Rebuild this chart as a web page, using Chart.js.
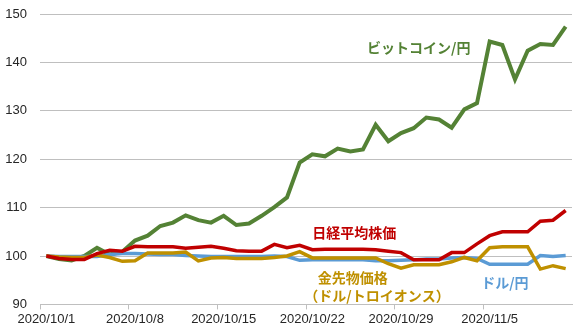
<!DOCTYPE html>
<html>
<head>
<meta charset="utf-8">
<title>ビットコイン・日経平均・金・ドル円</title>
<script src="https://cdn.jsdelivr.net/npm/chart.js@4"></script>
<style>
  html, body { margin: 0; padding: 0; background: #fff; }
  #wrap { width: 580px; height: 330px; }
</style>
</head>
<body>
<div id="wrap"><canvas id="chart"></canvas></div>
<script>
// daily, 2020/10/1 = 100
const days = [
  '2020/10/1','2020/10/2','2020/10/3','2020/10/4','2020/10/5','2020/10/6','2020/10/7',
  '2020/10/8','2020/10/9','2020/10/10','2020/10/11','2020/10/12','2020/10/13','2020/10/14',
  '2020/10/15','2020/10/16','2020/10/17','2020/10/18','2020/10/19','2020/10/20','2020/10/21',
  '2020/10/22','2020/10/23','2020/10/24','2020/10/25','2020/10/26','2020/10/27','2020/10/28',
  '2020/10/29','2020/10/30','2020/10/31','2020/11/1','2020/11/2','2020/11/3','2020/11/4',
  '2020/11/5','2020/11/6','2020/11/7','2020/11/8','2020/11/9','2020/11/10','2020/11/11'
];
const shownDays = ['2020/10/1','2020/10/8','2020/10/15','2020/10/22','2020/10/29','2020/11/5'];

const bitcoin = [100, 99.4, 99.1, 100.0, 101.7, 100.3, 100.9, 103.2, 104.2, 106.2,
  106.9, 108.4, 107.4, 106.9, 108.3, 106.4, 106.7, 108.3, 110.1, 112.1,
  119.3, 121.0, 120.6, 122.2, 121.6, 122.0, 127.1, 123.7, 125.4, 126.4,
  128.6, 128.2, 126.5, 130.3, 131.6, 144.3, 143.6, 136.5, 142.4, 143.8,
  143.6, 147.4];
const nikkei = [100, 99.5, 99.3, 99.3, 100.5, 101.2, 101.0, 102.0, 101.9, 101.9,
  101.9, 101.6, 101.8, 102.0, 101.6, 101.1, 101.0, 101.0, 102.4, 101.7,
  102.2, 101.3, 101.4, 101.4, 101.4, 101.4, 101.3, 101.0, 100.7, 99.2,
  99.2, 99.2, 100.7, 100.7, 102.5, 104.2, 105.0, 105.0, 105.0, 107.2,
  107.4, 109.4];
const gold = [100, 99.8, 99.7, 99.7, 100.2, 99.7, 98.9, 99.0, 100.6, 100.6,
  100.6, 100.8, 99.0, 99.6, 99.7, 99.5, 99.5, 99.5, 99.7, 100.0,
  100.9, 99.6, 99.6, 99.6, 99.6, 99.6, 99.6, 98.4, 97.5, 98.2,
  98.2, 98.2, 98.8, 99.7, 99.0, 101.7, 101.9, 101.9, 101.9, 97.3,
  98.0, 97.4];
const usdjpy = [100, 99.9, 99.9, 99.9, 99.9, 100.3, 100.5, 100.5, 100.4, 100.3,
  100.3, 100.1, 100.0, 99.9, 99.9, 99.9, 99.9, 99.9, 100.0, 99.9,
  99.1, 99.2, 99.2, 99.2, 99.2, 99.2, 99.0, 99.0, 99.1, 99.2,
  99.4, 99.4, 99.6, 99.7, 99.5, 98.3, 98.3, 98.3, 98.3, 100.1,
  99.9, 100.1];

const GREEN = '#548235', RED = '#C00000', GOLD = '#BF9000', BLUE = '#5B9BD5';
const GRID = '#BFBFBF';

// series names placed inside the plot: [text, day index, value, colour]
const notes = [
  ['ビットコイン/円', 29.4, 143.0, GREEN],
  ['日経平均株価', 24.3, 104.9, RED],
  ['金先物価格', 24.2, 95.5, GOLD],
  ['（ドル/トロイオンス）', 26.1, 91.7, GOLD],
  ['ドル/円', 36.2, 94.5, BLUE]
];

const notePlugin = {
  id: 'notes',
  afterDatasetsDraw(chart) {
    const ctx = chart.ctx, x = chart.scales.x, y = chart.scales.y;
    ctx.save();
    ctx.font = 'bold 14px "Noto Sans CJK JP"';
    ctx.textAlign = 'center';
    ctx.textBaseline = 'middle';
    notes.forEach(n => {
      ctx.fillStyle = n[3];
      ctx.fillText(n[0], x.getPixelForValue(n[1]), y.getPixelForValue(n[2]));
    });
    ctx.restore();
  }
};

function line(label, data, color, width) {
  return {
    label: label, data: data, borderColor: color, backgroundColor: color,
    borderWidth: width, pointRadius: 0, tension: 0, fill: false
  };
}

new Chart(document.getElementById('chart'), {
  type: 'line',
  data: {
    labels: days,
    datasets: [
      line('日経平均株価', nikkei, RED, 3.5),
      line('金先物価格', gold, GOLD, 3.5),
      line('ドル/円', usdjpy, BLUE, 3.5),
      line('ビットコイン/円', bitcoin, GREEN, 4)
    ]
  },
  options: {
    responsive: true,
    maintainAspectRatio: false,
    animation: false,
    layout: { padding: { top: 14, left: 5, right: 8, bottom: 1 } },
    plugins: { legend: { display: false }, tooltip: { enabled: false } },
    scales: {
      x: {
        offset: true,
        // the first date label may hang over the left edge, as in the original
        afterFit: s => { s.paddingLeft = 0; s.paddingRight = 0; },
        grid: {
          offset: true,
          drawOnChartArea: false,
          drawTicks: true,
          tickLength: 5,
          color: c => (c.index % 7 === 0 ? GRID : 'rgba(0,0,0,0)')
        },
        border: { display: true, color: GRID },
        ticks: {
          autoSkip: false, maxRotation: 0, minRotation: 0, padding: 2,
          color: '#262626',
          font: { family: '"Liberation Sans", Arial', size: 13 },
          callback: function (v, i) {
            const d = this.getLabelForValue(v);
            return shownDays.includes(d) ? d : '';
          }
        }
      },
      y: {
        min: 90, max: 150,
        afterFit: s => { s.width = 35; s.paddingTop = 0; s.paddingBottom = 0; },
        grid: { color: GRID, drawTicks: false },
        border: { display: false },
        ticks: {
          stepSize: 10, padding: 13, color: '#262626',
          font: { family: '"Liberation Sans", Arial', size: 13 }
        }
      }
    }
  },
  plugins: [notePlugin]
});
</script>
</body>
</html>
